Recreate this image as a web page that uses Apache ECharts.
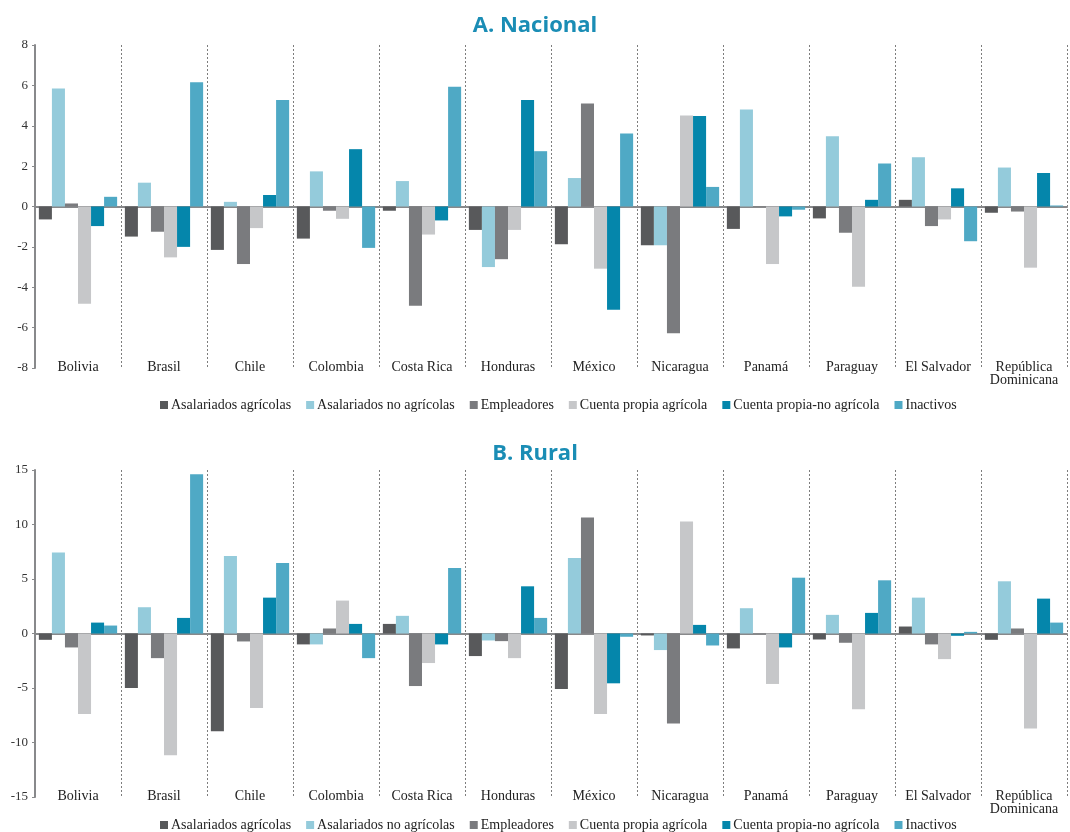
<!DOCTYPE html>
<html>
<head>
<meta charset="utf-8">
<script src="https://cdn.jsdelivr.net/npm/echarts@6/dist/echarts.min.js"></script>
<style>html,body{margin:0;padding:0;background:#fff;}#c{width:1070px;height:832px;}</style>
</head>
<body>
<div id="c"></div>
<script>
var categories = ['Bolivia','Brasil','Chile','Colombia','Costa Rica','Honduras','México','Nicaragua','Panamá','Paraguay','El Salvador','República\nDominicana'];
var seriesNames = ['Asalariados agrícolas','Asalariados no agrícolas','Empleadores','Cuenta propia agrícola','Cuenta propia-no agrícola','Inactivos'];
var seriesColors = ['#58595b','#94cbdb','#7a7b7e','#c6c7c9','#0586ab','#4fa9c5'];

// A. Nacional
var nacAsalAgr   = [-0.64,-1.49,-2.15,-1.59,-0.21,-1.16,-1.87,-1.92,-1.11,-0.59, 0.33,-0.31];
var nacAsalNoAgr = [ 5.84, 1.18, 0.23, 1.74, 1.26,-3.00, 1.41,-1.92, 4.80, 3.48, 2.44, 1.93];
var nacEmpl      = [ 0.15,-1.25,-2.85,-0.21,-4.92,-2.61, 5.10,-6.28,-0.02,-1.30,-0.97,-0.25];
var nacCPAgr     = [-4.82,-2.52,-1.07,-0.61,-1.39,-1.16,-3.08, 4.51,-2.85,-3.98,-0.64,-3.03];
var nacCPNoAgr   = [-0.97,-2.00, 0.57, 2.84,-0.69, 5.28,-5.11, 4.48,-0.49, 0.33, 0.90, 1.66];
var nacInact     = [ 0.48, 6.16, 5.28,-2.05, 5.93, 2.74, 3.62, 0.97,-0.16, 2.13,-1.72, 0.05];

// B. Rural
var rurAsalAgr   = [-0.58,-5.00,-8.96,-1.00, 0.88,-2.07,-5.09,-0.18,-1.37,-0.55, 0.64,-0.58];
var rurAsalNoAgr = [ 7.44, 2.41, 7.10,-1.00, 1.62,-0.64, 6.92,-1.52, 2.32, 1.71, 3.29, 4.79];
var rurEmpl      = [-1.28,-2.26,-0.73, 0.46,-4.82,-0.70,10.64,-8.26, 0.00,-0.85,-1.00, 0.46];
var rurCPAgr     = [-7.38,-11.16,-6.83, 3.02,-2.71,-2.26,-7.38,10.27,-4.63,-6.95,-2.35,-8.72];
var rurCPNoAgr   = [ 1.00, 1.43, 3.29, 0.88,-1.00, 4.33,-4.57, 0.79,-1.28, 1.89,-0.21, 3.20];
var rurInact     = [ 0.73,14.60, 6.46,-2.26, 6.00, 1.43,-0.30,-1.10, 5.12, 4.88, 0.15, 1.00];

var nacData = [nacAsalAgr,nacAsalNoAgr,nacEmpl,nacCPAgr,nacCPNoAgr,nacInact];
var rurData = [rurAsalAgr,rurAsalNoAgr,rurEmpl,rurCPAgr,rurCPNoAgr,rurInact];

var serif = '"Liberation Serif", "DejaVu Serif", serif';
var axisGray = '#88898b';

function xAxesFor(gi){
  return [
    { type:'category', gridIndex:gi, data:categories, position:'bottom',
      axisLine:{show:true, onZero:true, lineStyle:{color:axisGray, width:2}},
      axisTick:{show:false}, axisLabel:{show:false}, splitLine:{show:false} },
    { type:'category', gridIndex:gi, data:categories, position:'bottom',
      axisLine:{show:false, onZero:false}, axisTick:{show:false},
      axisLabel:{show:true, interval:0, margin:-7, color:'#222', fontFamily:serif, fontSize:14, lineHeight:13},
      splitLine:{show:true, interval:0, lineStyle:{color:'#7d7d7d', type:[2,2], width:1}} }
  ];
}
function yAxisFor(gi, min, max, interval){
  return { type:'value', gridIndex:gi, min:min, max:max, interval:interval,
    axisLine:{show:true, lineStyle:{color:axisGray, width:2}},
    axisTick:{show:true, length:3, lineStyle:{color:axisGray}},
    axisLabel:{color:'#333', fontFamily:serif, fontSize:13, margin:7},
    splitLine:{show:false} };
}

var series = [];
seriesNames.forEach(function(n,i){
  series.push({ name:n, type:'bar', xAxisIndex:0, yAxisIndex:0, data:nacData[i],
    itemStyle:{color:seriesColors[i]}, barGap:'0%', barCategoryGap:'9%', silent:true });
});
seriesNames.forEach(function(n,i){
  series.push({ name:n, type:'bar', xAxisIndex:2, yAxisIndex:1, data:rurData[i],
    itemStyle:{color:seriesColors[i]}, barGap:'0%', barCategoryGap:'9%', silent:true });
});

var legendCommon = { icon:'rect', itemWidth:8, itemHeight:8, itemGap:15,
  textStyle:{fontFamily:serif, fontSize:14, color:'#222', padding:[0,0,0,-2]},
  data:seriesNames, selectedMode:false, left:155 };

var option = {
  animation:false,
  color:seriesColors,
  title:[
    { text:'A. Nacional', left:'center', top:10,
      textStyle:{fontFamily:'"Open Sans", sans-serif', fontWeight:'bold', fontSize:22, color:'#1a8db5'} },
    { text:'B. Rural', left:'center', top:438,
      textStyle:{fontFamily:'"Open Sans", sans-serif', fontWeight:'bold', fontSize:22, color:'#1a8db5'} }
  ],
  legend:[
    Object.assign({}, legendCommon, {top:393}),
    Object.assign({}, legendCommon, {top:813})
  ],
  grid:[
    { left:35, right:3, top:45, height:323 },
    { left:35, right:3, top:470, height:327 }
  ],
  xAxis: xAxesFor(0).concat(xAxesFor(1)),
  yAxis: [ yAxisFor(0,-8,8,2), yAxisFor(1,-15,15,5) ],
  series: series
};

var chart = echarts.init(document.getElementById('c'), null, {renderer:'canvas'});
chart.setOption(option);
</script>
</body>
</html>
